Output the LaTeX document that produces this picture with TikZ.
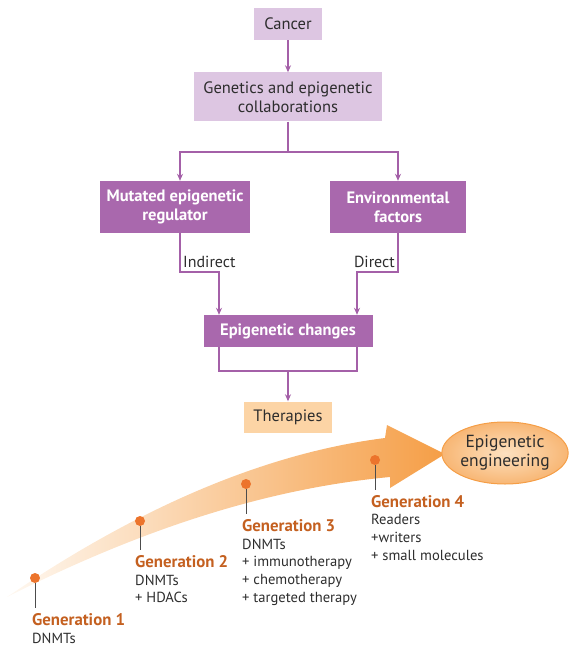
\documentclass[tikz,border=0pt]{standalone}
\usepackage{fontspec}
\setmainfont{PT Sans}
\usetikzlibrary{arrows.meta,positioning,calc,shapes.geometric}
\definecolor{epurple}{RGB}{169,104,173}
\definecolor{elilac}{RGB}{221,198,226}
\definecolor{eline}{RGB}{164,96,168}
\definecolor{epeach}{RGB}{252,212,165}
\definecolor{eorange}{RGB}{245,158,70}
\definecolor{edot}{RGB}{236,116,44}
\definecolor{egen}{RGB}{196,96,32}
\definecolor{etext}{RGB}{45,45,45}
\begin{document}
\begin{tikzpicture}[x=1pt,y=-1pt,
  lightbox/.style={fill=elilac,text=etext,inner sep=2pt,align=center,font=\fontsize{16.5}{19}\selectfont},
  darkbox/.style={fill=epurple,text=white,inner sep=2pt,align=center,font=\fontsize{16.5}{19}\selectfont\bfseries},
  arr/.style={-{Stealth[length=7pt,width=6pt]},line width=1.4pt,eline},
  ln/.style={line width=1.4pt,eline},
  lbl/.style={text=etext,inner sep=0pt,font=\fontsize{16}{18}\selectfont},
  gdot/.style={circle,fill=edot,minimum size=10pt,inner sep=0pt},
  gline/.style={line width=0.8pt,black!70},
  gtitle/.style={text=egen,inner sep=0pt,anchor=base west,font=\fontsize{16.8}{19}\selectfont\bfseries},
  gbody/.style={text=etext,inner sep=0pt,anchor=north west,align=left,font=\fontsize{14.6}{17.7}\selectfont}]
\useasboundingbox (0,0) rectangle (572,652);
% top of the scheme
\node[lightbox,minimum width=68pt,minimum height=32pt] (cancer) at (288,24) {Cancer};
\node[lightbox,minimum width=188pt,minimum height=49pt] (genet) at (288,97) {Genetics and epigenetic\\collaborations};
\node[darkbox,minimum width=150pt,minimum height=52pt] (mut) at (175,207) {Mutated epigenetic\\regulator};
\node[darkbox,minimum width=136pt,minimum height=52pt] (env) at (398,207) {Environmental\\factors};
\node[darkbox,minimum width=169pt,minimum height=32pt] (chg) at (288,331) {Epigenetic changes};
\node[lightbox,fill=epeach,minimum width=88pt,minimum height=31pt] (ther) at (288,417) {Therapies};
\coordinate (sp) at (288,152);
\coordinate (ind) at (219,272);
\coordinate (dir) at (357,272);
\coordinate (mrg) at (288,371);
\draw[arr] (cancer) -- (genet);
\draw[ln] (genet) -- (sp);
\draw[arr] (sp) -| ([xshift=5pt]mut.north);
\draw[arr] (sp) -| (env.north);
\draw[arr] ([xshift=5pt]mut.south) |- (ind) -- (ind |- chg.north);
\draw[arr] (env.south) |- (dir) -- (dir |- chg.north);
\node[lbl,anchor=base west] (lind) at (183,267) {Indirect};
\node[lbl,anchor=base east] (ldir) at (395,267) {Direct};
\draw[ln] (ind |- chg.south) |- (mrg) -| (dir |- chg.south);
\draw[arr] (mrg) -- (ther);
% generations arrow
\shade[left color=epeach!15,right color=eorange] (7,597)
  .. controls (120,520) and (250,455) .. (385,438) -- (387,425) -- (445,454)
  -- (390,488) -- (390,477) .. controls (250,490) and (120,540) .. (7,597) -- cycle;
\node[ellipse,draw=eorange,line width=1pt,inner color=epeach!70,outer color=eorange!75,minimum width=114pt,minimum height=62pt,inner sep=0pt,align=center,text=etext,font=\fontsize{17.5}{19}\selectfont] (eng) at (505,453) {Epigenetic\\engineering};
\node[gdot] (d1) at (35,578) {};
\node[gdot] (d2) at (140,521) {};
\node[gdot] (d3) at (246,484) {};
\node[gdot] (d4) at (375,460) {};
\node[gtitle] (g1) at (32,625) {Generation 1};
\node[gtitle] (g2) at (135,567) {Generation 2};
\node[gtitle] (g3) at (242,531) {Generation 3};
\node[gtitle] (g4) at (371,507) {Generation 4};
\node[gbody] (t1) at ([yshift=-7pt]g1.south west) {DNMTs};
\node[gbody] (t2) at ([yshift=-7pt]g2.south west) {DNMTs\\+ HDACs};
\node[gbody] (t3) at ([yshift=-7pt]g3.south west) {DNMTs\\+ immunotherapy\\+ chemotherapy\\+ targeted therapy};
\node[gbody] (t4) at ([yshift=-7pt]g4.south west) {Readers\\+writers\\+ small molecules};
\foreach \i in {1,...,4}
  \draw[gline] (d\i) -- ($(d\i |- g\i.north)+(0,-5)$);
\end{tikzpicture}
\end{document}
